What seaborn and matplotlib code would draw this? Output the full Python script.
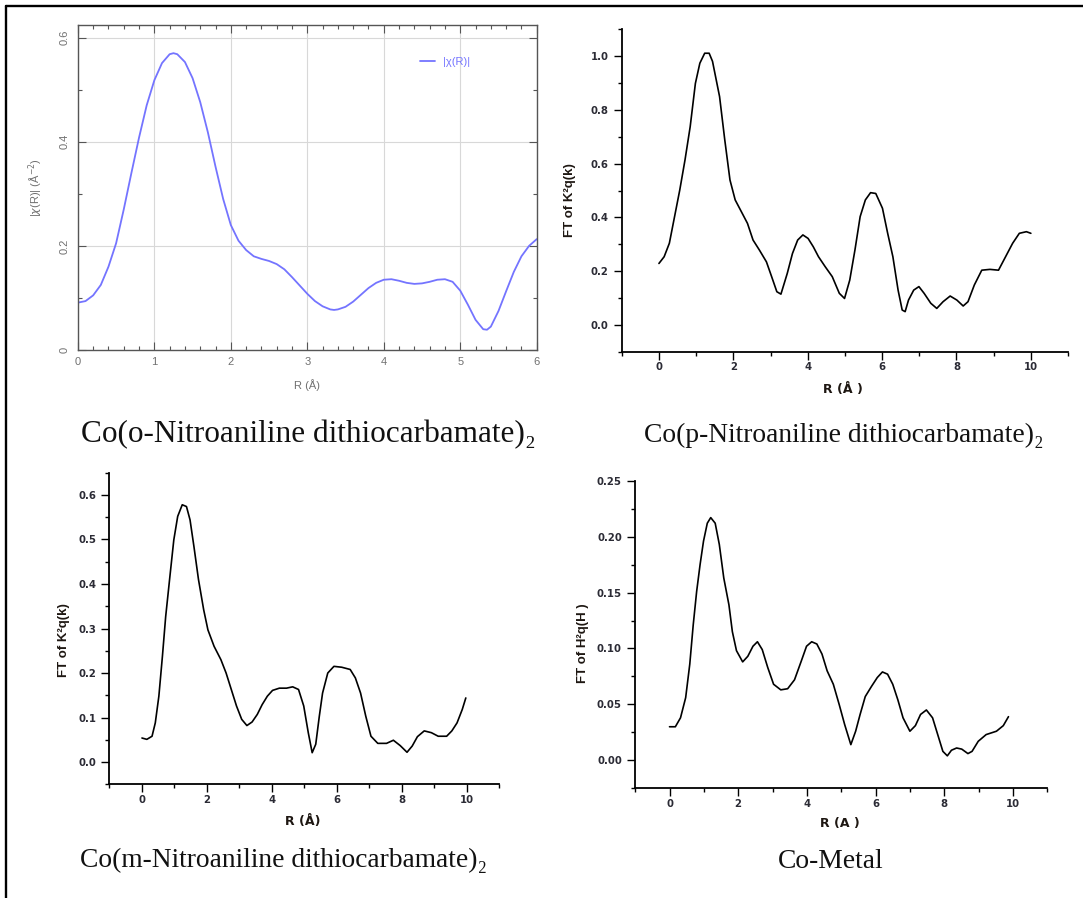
import matplotlib
matplotlib.use("Agg")
import matplotlib.pyplot as plt
from matplotlib.ticker import MultipleLocator, FuncFormatter, FormatStrFormatter
from matplotlib.lines import Line2D
import seaborn as sns

# ---------------- data ----------------
# Panel 1: Co(o-Nitroaniline dithiocarbamate)2, |chi(R)|
o_R = [0.00, 0.10, 0.20, 0.30, 0.40, 0.50, 0.60, 0.70, 0.80, 0.90, 1.00, 1.10, 1.20, 1.25,
       1.30, 1.40, 1.50, 1.60, 1.70, 1.80, 1.90, 2.00, 2.10, 2.20, 2.30, 2.40, 2.50, 2.60,
       2.70, 2.80, 2.90, 3.00, 3.10, 3.20, 3.30, 3.35, 3.40, 3.50, 3.60, 3.70, 3.80, 3.90,
       4.00, 4.10, 4.20, 4.30, 4.40, 4.50, 4.60, 4.70, 4.80, 4.90, 5.00, 5.10, 5.20, 5.30,
       5.35, 5.40, 5.50, 5.60, 5.70, 5.80, 5.90, 6.00]
o_chi = [0.091, 0.094, 0.105, 0.125, 0.160, 0.205, 0.270, 0.340, 0.408, 0.470, 0.518, 0.551,
         0.568, 0.570, 0.568, 0.553, 0.522, 0.476, 0.418, 0.352, 0.290, 0.240, 0.210, 0.192,
         0.180, 0.175, 0.171, 0.165, 0.155, 0.140, 0.124, 0.108, 0.094, 0.084, 0.078, 0.077,
         0.078, 0.083, 0.093, 0.106, 0.119, 0.129, 0.135, 0.136, 0.133, 0.129, 0.127, 0.128,
         0.131, 0.135, 0.136, 0.131, 0.114, 0.087, 0.058, 0.040, 0.039, 0.045, 0.075, 0.113,
         0.150, 0.180, 0.200, 0.213]

# Panel 2: Co(p-Nitroaniline dithiocarbamate)2
p_R = [0.00, 0.14, 0.28, 0.42, 0.56, 0.70, 0.84, 0.98, 1.10, 1.23, 1.35, 1.44, 1.63, 1.77,
       1.91, 2.05, 2.24, 2.38, 2.53, 2.70, 2.89, 3.03, 3.17, 3.28, 3.45, 3.59, 3.73, 3.87,
       4.01, 4.15, 4.29, 4.47, 4.66, 4.85, 4.99, 5.13, 5.27, 5.41, 5.55, 5.69, 5.83, 6.01,
       6.15, 6.29, 6.43, 6.54, 6.62, 6.71, 6.85, 6.99, 7.13, 7.31, 7.47, 7.64, 7.83, 8.01,
       8.18, 8.31, 8.48, 8.68, 8.90, 9.13, 9.32, 9.51, 9.69, 9.88, 10.0]
p_ft = [0.229, 0.254, 0.304, 0.403, 0.502, 0.613, 0.737, 0.898, 0.973, 1.010, 1.010, 0.980,
        0.849, 0.688, 0.539, 0.465, 0.415, 0.378, 0.316, 0.279, 0.235, 0.180, 0.124, 0.115,
        0.192, 0.266, 0.316, 0.335, 0.322, 0.291, 0.254, 0.217, 0.180, 0.118, 0.099, 0.167,
        0.279, 0.403, 0.465, 0.492, 0.489, 0.434, 0.341, 0.254, 0.130, 0.056, 0.050, 0.093,
        0.130, 0.143, 0.118, 0.081, 0.062, 0.087, 0.108, 0.093, 0.071, 0.087, 0.149, 0.204,
        0.207, 0.204, 0.254, 0.304, 0.341, 0.347, 0.341]

# Panel 3: Co(m-Nitroaniline dithiocarbamate)2
m_R = [0.00, 0.15, 0.31, 0.41, 0.52, 0.63, 0.73, 0.86, 0.98, 1.10, 1.24, 1.37, 1.48, 1.60,
       1.74, 1.90, 2.03, 2.22, 2.43, 2.59, 2.75, 2.91, 3.07, 3.23, 3.39, 3.55, 3.70, 3.86,
       4.02, 4.23, 4.45, 4.64, 4.82, 4.98, 5.12, 5.24, 5.35, 5.46, 5.56, 5.72, 5.91, 6.15,
       6.41, 6.57, 6.73, 6.89, 7.05, 7.26, 7.53, 7.74, 7.95, 8.16, 8.32, 8.48, 8.69, 8.91,
       9.12, 9.38, 9.54, 9.70, 9.86, 9.97]
m_ft = [0.054, 0.051, 0.058, 0.088, 0.148, 0.238, 0.327, 0.417, 0.499, 0.552, 0.578, 0.574,
        0.544, 0.484, 0.410, 0.342, 0.297, 0.260, 0.230, 0.200, 0.163, 0.126, 0.096, 0.082,
        0.090, 0.107, 0.129, 0.148, 0.161, 0.166, 0.166, 0.169, 0.163, 0.126, 0.066, 0.021,
        0.040, 0.103, 0.155, 0.200, 0.215, 0.213, 0.208, 0.189, 0.155, 0.103, 0.058, 0.042,
        0.042, 0.049, 0.037, 0.022, 0.036, 0.057, 0.070, 0.066, 0.058, 0.058, 0.070, 0.088,
        0.118, 0.144]

# Panel 4: Co-Metal
c_R = [0.00, 0.17, 0.32, 0.47, 0.59, 0.69, 0.79, 0.89, 0.99, 1.10, 1.20, 1.33, 1.45, 1.58,
       1.73, 1.83, 1.95, 2.13, 2.28, 2.43, 2.56, 2.70, 2.86, 3.03, 3.24, 3.44, 3.64, 3.84,
       3.99, 4.14, 4.29, 4.44, 4.59, 4.77, 4.94, 5.10, 5.28, 5.42, 5.55, 5.70, 5.88, 6.05,
       6.20, 6.35, 6.50, 6.65, 6.80, 7.00, 7.16, 7.31, 7.48, 7.66, 7.81, 7.96, 8.09, 8.21,
       8.36, 8.51, 8.69, 8.81, 8.99, 9.22, 9.52, 9.72, 9.87]
c_ft = [0.030, 0.030, 0.038, 0.056, 0.086, 0.121, 0.151, 0.175, 0.196, 0.212, 0.217, 0.212,
        0.193, 0.163, 0.139, 0.115, 0.098, 0.088, 0.093, 0.102, 0.106, 0.099, 0.083, 0.068,
        0.063, 0.064, 0.072, 0.089, 0.102, 0.106, 0.104, 0.095, 0.080, 0.068, 0.050, 0.032,
        0.014, 0.026, 0.041, 0.057, 0.066, 0.074, 0.079, 0.077, 0.068, 0.054, 0.038, 0.026,
        0.031, 0.041, 0.045, 0.038, 0.023, 0.008, 0.004, 0.009, 0.011, 0.010, 0.006, 0.008,
        0.017, 0.023, 0.026, 0.031, 0.039]

captions = ["Co(o-Nitroaniline dithiocarbamate)\u2082",
            "Co(p-Nitroaniline dithiocarbamate)\u2082",
            "Co(m-Nitroaniline dithiocarbamate)\u2082",
            "Co-Metal"]

# ---------------- style ----------------
sns.set_style("ticks")
plt.rcParams["font.family"] = ["Liberation Sans", "DejaVu Sans"]
plt.rcParams["mathtext.fontset"] = "dejavusans"

fig = plt.figure(figsize=(10.83, 8.98), dpi=100)

# page border (top and left rules)
fig.add_artist(Line2D([0.0057, 1.0], [0.9931, 0.9931], transform=fig.transFigure,
                      color="black", lw=1.7))
fig.add_artist(Line2D([0.0057, 0.0057], [0.0, 0.9931], transform=fig.transFigure,
                      color="black", lw=1.7))

# ---------------- Panel 1 (Demeter/gnuplot style) ----------------
ax1 = fig.add_axes([0.0719, 0.6102, 0.4237, 0.3619])
sns.lineplot(x=o_R, y=o_chi, ax=ax1, color="#7474ff", lw=1.3, label="|\u03c7(R)|",
             estimator=None, sort=False)
ax1.set_xlim(0, 6)
ax1.set_ylim(0, 0.624)
ax1.xaxis.set_major_locator(MultipleLocator(1))
ax1.xaxis.set_minor_locator(MultipleLocator(0.2))
ax1.yaxis.set_major_locator(MultipleLocator(0.2))
ax1.yaxis.set_minor_locator(MultipleLocator(0.1))
ax1.yaxis.set_major_formatter(FuncFormatter(lambda v, p: "0" if abs(v) < 1e-9 else f"{v:g}"))
ax1.grid(True, which="major", color="#d8d8d8", lw=0.8)
ax1.tick_params(which="both", direction="in", top=True, right=True, color="#555555",
                labelcolor="#707070", labelsize=8, width=0.8)
ax1.tick_params(which="major", length=6)
ax1.tick_params(which="minor", length=3)
ax1.tick_params(axis="x", pad=5)
ax1.tick_params(axis="y", pad=6)
plt.setp(ax1.get_yticklabels(), rotation=90, va="center")
for s in ax1.spines.values():
    s.set_color("#555555")
    s.set_linewidth(1.0)
ax1.set_xlabel("R (Å)", color="#707070", fontsize=8, va="center")
ax1.xaxis.set_label_coords(0.5, -0.108)
ax1.set_ylabel(r"|$\chi$(R)| (Å$^{-2}$)", color="#707070", fontsize=8, va="center")
ax1.yaxis.set_label_coords(-0.091, 0.5)
leg = ax1.legend(loc="center left", bbox_to_anchor=(0.745, 0.886), frameon=False,
                 fontsize=8, handlelength=1.4, handletextpad=0.7, borderpad=0,
                 borderaxespad=0)
for t in leg.get_texts():
    t.set_color("#7474ff")


# ---------------- Origin-style panels ----------------
def origin_panel(rect, x, y, ylim, ymaj, ymin, yfmt, ylabel, xlabel, ylab_xy, xlab_xy):
    ax = fig.add_axes(rect)
    sns.lineplot(x=x, y=y, ax=ax, color="black", lw=1.2, estimator=None, sort=False,
                 legend=False)
    ax.set_xlim(-1, 11)
    ax.set_ylim(*ylim)
    ax.xaxis.set_major_locator(MultipleLocator(2))
    ax.xaxis.set_minor_locator(MultipleLocator(1))
    ax.yaxis.set_major_locator(MultipleLocator(ymaj))
    ax.yaxis.set_minor_locator(MultipleLocator(ymin))
    ax.xaxis.set_major_formatter(FormatStrFormatter("%d"))
    ax.yaxis.set_major_formatter(FormatStrFormatter(yfmt))
    ax.spines["top"].set_visible(False)
    ax.spines["right"].set_visible(False)
    for s in ("left", "bottom"):
        ax.spines[s].set_linewidth(1.3)
        ax.spines[s].set_color("black")
    ax.tick_params(which="both", direction="out", color="black", width=1.0,
                   labelsize=7.3, labelcolor="#2b2b35")
    ax.tick_params(which="major", length=5.5)
    ax.tick_params(which="minor", length=3)
    ax.tick_params(axis="y", pad=4)
    ax.tick_params(axis="x", pad=2)
    for lbl in ax.get_xticklabels() + ax.get_yticklabels():
        lbl.set_fontweight("bold")
        lbl.set_family("DejaVu Sans")
    ax.set_ylabel(ylabel, fontsize=9.5, fontweight="bold", color="#1e1712", va="center")
    ax.yaxis.set_label_coords(*ylab_xy)
    ax.set_xlabel(xlabel, fontsize=9, fontweight="bold", color="#1e1712", va="center",
                  family="DejaVu Sans")
    ax.xaxis.set_label_coords(*xlab_xy)
    return ax


origin_panel([0.5741, 0.6080, 0.4121, 0.3597], p_R, p_ft, (-0.1, 1.1), 0.2, 0.1, "%.1f",
             "FT of K²q(k)", "R (Å )", (-0.117, 0.47), (0.496, -0.1146))
origin_panel([0.1011, 0.1266, 0.3599, 0.3470], m_R, m_ft, (-0.05, 0.65), 0.1, 0.05, "%.1f",
             "FT of K²q(k)", "R (Å)", (-0.1175, 0.463), (0.496, -0.118))
origin_panel([0.5865, 0.1222, 0.3805, 0.3425], c_R, c_ft, (-0.025, 0.25), 0.05, 0.025, "%.2f",
             "FT of H²q(H )", "R (A )", (-0.127, 0.472), (0.496, -0.116))

# ---------------- captions ----------------
cap_kw = dict(family=["Liberation Serif", "DejaVu Serif"], color="#111111",
              va="baseline", ha="left")
fig.text(81 / 1083, 1 - 442 / 898, captions[0], fontsize=22.5, **cap_kw)
fig.text(644 / 1083, 1 - 442 / 898, captions[1], fontsize=19.8, **cap_kw)
fig.text(80 / 1083, 1 - 867 / 898, captions[2], fontsize=19.8, **cap_kw)
fig.text(778 / 1083, 1 - 868 / 898, captions[3], fontsize=19.8, **cap_kw)

fig.savefig("out.png", dpi=100)
